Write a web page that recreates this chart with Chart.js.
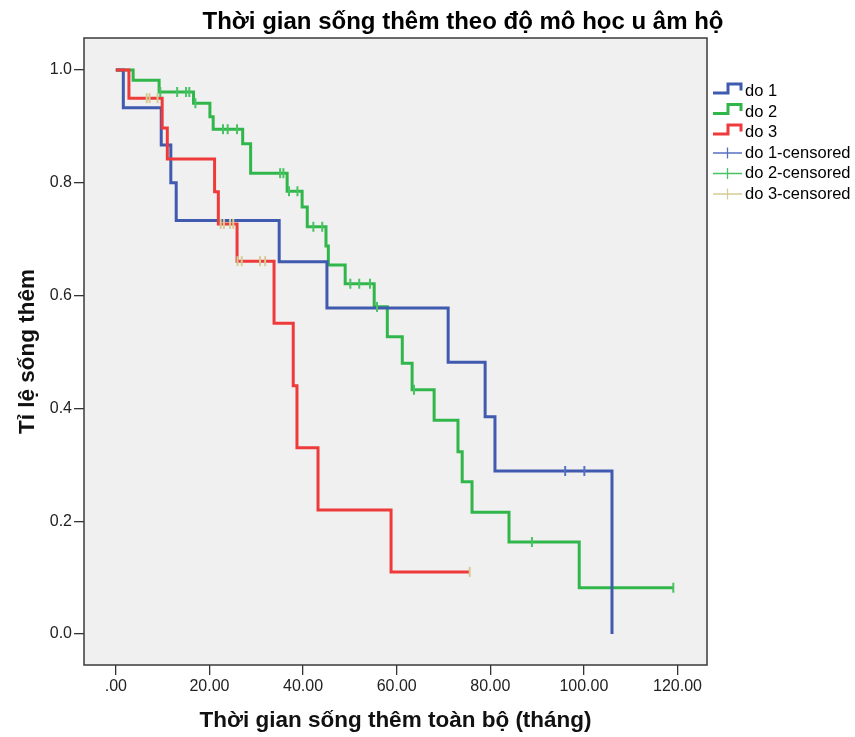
<!DOCTYPE html>
<html><head><meta charset="utf-8">
<script src="https://cdn.jsdelivr.net/npm/chart.js@4.4.0/dist/chart.umd.min.js"></script>
<style>html,body{margin:0;padding:0;background:#fff}#wrap{width:855px;height:737px}</style>
</head><body><div id="wrap"><canvas id="c" width="855" height="737"></canvas></div>
<script>
// ---- data ----
const chartTitle = 'Thời gian sống thêm theo độ mô học u âm hộ';
const xTitle = 'Thời gian sống thêm toàn bộ (tháng)';
const yTitle = 'Tỉ lệ sống thêm';
const seriesNames = ['do 1', 'do 2', 'do 3'];
const censorNames = ['do 1-censored', 'do 2-censored', 'do 3-censored'];
const xTicks = [0, 20, 40, 60, 80, 100, 120];
const yTicks = [0, 0.2, 0.4, 0.6, 0.8, 1.0];

const do1Times = [0, 1.6, 9.7, 11.75, 12.9, 34.9, 45.1, 71.0, 78.9, 81.0, 106.0];
const do1Surv  = [1, 0.933, 0.867, 0.800, 0.733, 0.660, 0.578, 0.482, 0.385, 0.289, 0.0];
const do1CensTimes = [96.0, 100.1];
const do1CensSurv  = [0.289, 0.289];

const do2Times = [0, 3.7, 9.25, 16.6, 20.1, 20.8, 27.1, 28.8, 36.6, 39.8, 40.9, 44.9, 45.4, 49.0, 55.2, 58.0, 61.2, 63.3, 68.0, 73.1, 74.0, 76.1, 84.0, 99.0, 119.1];
const do2Surv  = [1, 0.982, 0.961, 0.941, 0.917, 0.895, 0.869, 0.817, 0.785, 0.757, 0.722, 0.688, 0.654, 0.621, 0.580, 0.527, 0.480, 0.433, 0.379, 0.323, 0.270, 0.216, 0.163, 0.082, 0.082];
const do2CensTimes = [9.5, 13.1, 15.0, 15.7, 17.0, 22.9, 23.9, 25.9, 35.1, 35.8, 37.0, 38.8, 42.2, 44.1, 50.1, 52.0, 54.3, 55.8, 63.7, 88.9, 119.1];
const do2CensSurv  = [0.961, 0.961, 0.961, 0.961, 0.941, 0.895, 0.895, 0.895, 0.817, 0.817, 0.785, 0.785, 0.722, 0.722, 0.621, 0.621, 0.621, 0.580, 0.433, 0.163, 0.082];

const do3Times = [0, 2.8, 9.9, 11.0, 21.1, 21.9, 25.9, 33.8, 37.9, 38.7, 43.2, 58.8, 75.6];
const do3Surv  = [1, 0.95, 0.897, 0.842, 0.784, 0.727, 0.661, 0.551, 0.44, 0.33, 0.22, 0.11, 0.11];
const do3CensTimes = [6.6, 7.2, 8.9, 22.4, 23.1, 24.4, 25.1, 26.0, 26.9, 30.8, 31.9, 75.6];
const do3CensSurv  = [0.95, 0.95, 0.95, 0.727, 0.727, 0.727, 0.727, 0.661, 0.661, 0.661, 0.661, 0.11];

// ---- styles ----
const lineColors = ['#3F5AAE', '#31B64B', '#EE3A3A'];
const censColors = ['#5870C2', '#48C262', '#D6CB95'];
const FONT = "'Liberation Sans', Arial, sans-serif";

function pts(t, s) { return t.map((v, i) => ({ x: v, y: s[i] })); }

const stepSets = [[do1Times, do1Surv], [do2Times, do2Surv], [do3Times, do3Surv]];
const censSets = [[do1CensTimes, do1CensSurv], [do2CensTimes, do2CensSurv], [do3CensTimes, do3CensSurv]];
const lineOrder = [2, 3, 1];

const datasets = [];
stepSets.forEach((s, i) => datasets.push({
  label: seriesNames[i], data: pts(s[0], s[1]), stepped: true,
  borderColor: lineColors[i], borderWidth: 3, pointRadius: 0, fill: false, order: lineOrder[i]
}));
censSets.forEach((s, i) => datasets.push({
  label: censorNames[i], data: pts(s[0], s[1]), showLine: false,
  pointStyle: 'line', rotation: 90, pointRadius: 5, pointBorderWidth: 2,
  borderColor: censColors[i], pointBorderColor: censColors[i], backgroundColor: censColors[i], order: 0
}));

const bgPlugin = {
  id: 'bg',
  beforeDraw(chart) {
    const c = chart.ctx, a = chart.chartArea;
    c.save();
    c.fillStyle = '#fff'; c.fillRect(0, 0, chart.width, chart.height);
    c.fillStyle = '#F0F0F0'; c.fillRect(a.left, a.top, a.right - a.left, a.bottom - a.top);
    c.restore();
  },
  afterDraw(chart) {
    const c = chart.ctx, a = chart.chartArea;
    c.save();
    c.strokeStyle = '#3a3a3a'; c.lineWidth = 1.5;
    c.strokeRect(a.left, a.top, a.right - a.left, a.bottom - a.top);
    // title
    c.fillStyle = '#000'; c.font = 'bold 24px ' + FONT; c.textAlign = 'center'; c.textBaseline = 'alphabetic';
    c.fillText(chartTitle, 463, 29);
    // legend
    c.font = '16.5px ' + FONT; c.textAlign = 'left'; c.textBaseline = 'middle';
    const x0 = 713, tx = 745;
    for (let i = 0; i < 6; i++) {
      const yc = 91.5 + i * 20.5;
      if (i < 3) {
        c.strokeStyle = lineColors[i]; c.lineWidth = 3; c.lineJoin = 'miter';
        c.beginPath();
        c.moveTo(x0, yc + 1.5); c.lineTo(x0 + 15, yc + 1.5); c.lineTo(x0 + 15, yc - 7.5);
        c.lineTo(x0 + 28, yc - 7.5); c.lineTo(x0 + 28, yc - 1);
        c.stroke();
        c.fillStyle = '#000'; c.fillText(seriesNames[i], tx, yc);
      } else {
        const k = i - 3;
        c.strokeStyle = censColors[k]; c.lineWidth = 1.3;
        c.beginPath();
        c.moveTo(x0, yc); c.lineTo(x0 + 29, yc);
        c.moveTo(x0 + 14.5, yc - 5.5); c.lineTo(x0 + 14.5, yc + 5.5);
        c.stroke();
        c.fillStyle = '#000'; c.fillText(censorNames[k], tx, yc);
      }
    }
    c.restore();
  }
};

new Chart(document.getElementById('c'), {
  type: 'line',
  data: { datasets },
  options: {
    responsive: false, animation: false, events: [],
    layout: { padding: { left: 0, right: 148, top: 38, bottom: 0 } },
    plugins: { legend: { display: false }, title: { display: false }, tooltip: { enabled: false } },
    scales: {
      x: {
        type: 'linear', min: -6.8, max: 126.3,
        afterBuildTicks: s => { s.ticks = xTicks.map(v => ({ value: v })); },
        afterFit: s => { s.height = 72; },
        ticks: { callback: v => v === 0 ? '.00' : Number(v).toFixed(2), font: { size: 16, family: FONT }, color: '#222', padding: 2, maxRotation: 0, autoSkip: false },
        grid: { drawOnChartArea: false, drawTicks: true, tickLength: 10, color: '#333', lineWidth: 1.3 },
        border: { display: false },
        title: { display: true, text: xTitle, font: { size: 22.5, weight: 'bold', family: FONT }, color: '#111', padding: { top: 0, bottom: 3 } }
      },
      y: {
        type: 'linear', min: -0.055, max: 1.0567,
        afterBuildTicks: s => { s.ticks = yTicks.map(v => ({ value: v })); },
        afterFit: s => { s.width = 84; },
        ticks: { callback: v => Number(v).toFixed(1), font: { size: 16, family: FONT }, color: '#222', padding: 2, autoSkip: false },
        grid: { drawOnChartArea: false, drawTicks: true, tickLength: 10, color: '#333', lineWidth: 1.3 },
        border: { display: false },
        title: { display: true, text: yTitle, font: { size: 22.5, weight: 'bold', family: FONT }, color: '#111', padding: { top: 14, bottom: 0 } }
      }
    }
  },
  plugins: [bgPlugin]
});
</script>
</body></html>
